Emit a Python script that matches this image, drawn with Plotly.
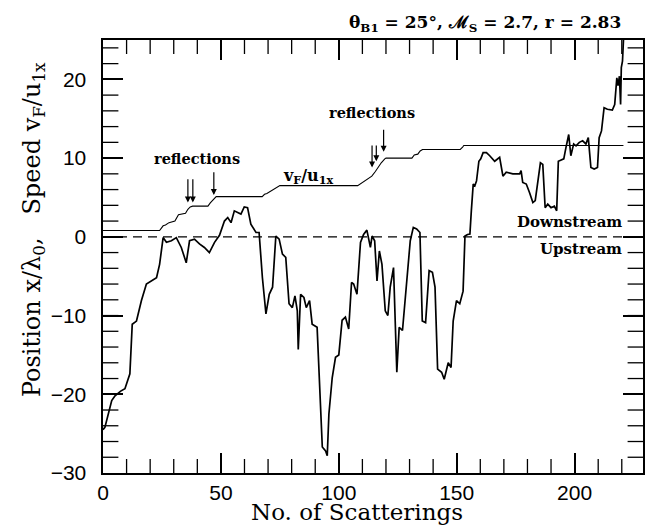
import plotly.graph_objects as go

# Position x/lambda0 vs number of scatterings
pos_n = [0, 0.8, 3.7, 5.1, 7.5, 9.3, 11.4, 12.4, 14.2, 16.3, 18.4, 20.5, 22.7, 24, 25.5, 26.9, 29, 31.1,
         33.2, 35.3, 36.7, 38.8, 40.9, 43, 45.1, 47.3, 49.4, 51.5, 52.9, 54.3, 55.7, 57.1, 58.5, 59.9,
         61.3, 62.7, 64.9, 66.2, 67.6, 69.1, 70.5, 71.9, 73.3, 74.7, 76.1, 77.5, 78.9, 80.3, 81.4, 82.4,
         82.8, 83.8, 85.2, 86.2, 87.6, 88.7, 90.8, 93, 94.4, 95.1, 95.8, 97.2, 98.6, 100, 101.4, 102.8,
         104.2, 105.4, 106.3, 107.7, 109.2, 110.5, 111.9, 113.4, 114.1, 115.2, 116.2, 117.2, 118.3,
         119.7, 120.8, 121.8, 123.2, 124.6, 125.6, 127, 128.8, 130.3, 131.6, 133, 134.4, 135.4, 136.8,
         138.3, 139.7, 140.8, 141.9, 143.6, 144.7, 146.4, 147.6, 148.5, 149.9, 151.3, 152.7, 153.5,
         154.6, 155.6, 156.2, 157, 157.7, 158.4, 159.4, 160.2, 161.2, 162.6, 164, 166.1, 168.2, 169.6,
         171, 173.8, 176.7, 177.3, 178, 179.5, 180.9, 182.3, 183.3, 184.4, 185.5, 186.5, 187.5, 188.6,
         190, 191.4, 192.4, 193.1, 195.4, 196.3, 197.5, 198.4, 199.6, 200.6, 202, 203.4, 204.8, 205.8,
         206.9, 208.3, 209.7, 210.4, 211.4, 212.5, 213.9, 216, 217, 217.9, 218.4, 219, 219.5, 219.8,
         220.3, 220.8]
pos_x = [-24.5, -24.2, -20.8, -20.2, -19.6, -19.3, -17.4, -11.1, -10.7, -8.1, -6.0, -5.6, -5.2, -3.5,
         -0.1, -0.7, -0.5, -0.1, -1.35, -3.3, -0.5, -0.3, -0.9, -1.35, -2.0, -0.7, 0.2, 2.0, 2.45, 1.8,
         3.3, 3.1, 2.9, 3.8, 3.7, 1.6, 0.55, 0.55, -5.2, -9.8, -7.3, -6.4, 0.1, -0.3, -2.2, -2.6, -8.5,
         -9.0, -7.5, -9.4, -14.3, -7.3, -7.7, -9.0, -8.1, -11.1, -11.5, -26.7, -27.2, -27.8, -22.5,
         -17.9, -15.3, -15.0, -10.6, -10.2, -11.7, -5.8, -6.0, -7.3, -0.7, 0.3, 0.85, -1.35, 0.1, -0.5,
         -5.6, -1.8, -3.5, -9.4, -10.0, -6.4, -3.9, -17.2, -11.5, -11.9, -5.6, -0.5, 1.2, 1.0, 0.55,
         -10.7, -10.9, -4.3, -4.5, -6.4, -16.8, -17.2, -18.1, -16.0, -16.6, -10.7, -8.1, -8.5, -6.9,
         0.1, 0.3, 0.35, 3.3, 6.7, 6.5, 7.1, 9.6, 9.9, 10.7, 10.7, 10.3, 9.6, 10.1, 7.7, 8.2, 8.0, 8.0,
         8.4, 6.9, 6.7, 5.6, 4.35, 4.6, 7.1, 9.4, 9.2, 3.7, 4.15, 3.7, 3.9, 3.3, 9.6, 9.9, 11.3, 13.0,
         10.3, 11.8, 11.55, 12.0, 12.2, 11.8, 12.6, 8.8, 8.6, 8.8, 12.6, 13.45, 16.4, 16.2, 16.1, 16.8,
         20.2, 19.2, 20.4, 16.8, 21.5, 22.3, 25.5]

# Speed v_F/u_1x vs number of scatterings
spd_n = [0, 24, 25.5, 26.5, 28, 29.5, 30.5, 32, 33.5, 35, 36, 37, 38, 44.5, 45.5, 47, 48, 67.5, 68.5,
         69.5, 71, 72, 74, 75, 108, 109.5, 111, 112.5, 114, 115.5, 116.5, 118, 119.5, 120, 131, 132,
         133.5, 134.5, 135.5, 151.5, 152.5, 153, 220.7]
spd_v = [0.8, 0.8, 1.4, 1.5, 1.8, 1.9, 2.0, 2.8, 2.9, 3.0, 3.5, 3.8, 3.9, 3.9, 4.3, 4.8, 5.1, 5.1, 5.4,
         5.5, 5.8, 6.0, 6.4, 6.5, 6.5, 6.8, 7.0, 7.4, 7.7, 8.3, 8.8, 9.4, 9.9, 10.0, 10.0, 10.4, 10.5,
         10.9, 11.1, 11.1, 11.4, 11.6, 11.6]

shock_n = [0, 221.5]
shock_x = [0, 0]

# reflection arrows: (n, head, tail)
refl_n = [36, 38.1, 47, 114.1, 115.9, 119]
refl_head = [4.35, 4.35, 5.3, 8.8, 9.6, 10.8]
refl_tail = [7.5, 7.5, 8.4, 11.8, 11.8, 13.8]

X_RANGE = [0, 229]
Y_RANGE = [-30, 25]
X_MINOR = 10
Y_MINOR = 2

SERIF = "DejaVu Serif"
SANS = "Liberation Sans"

fig = go.Figure()
fig.add_trace(go.Scatter(x=shock_n, y=shock_x, mode="lines",
                         line=dict(color="black", width=1.3, dash="9px,6px"), hoverinfo="skip"))
fig.add_trace(go.Scatter(x=spd_n, y=spd_v, mode="lines",
                         line=dict(color="black", width=1.1), hoverinfo="skip"))
fig.add_trace(go.Scatter(x=pos_n, y=pos_x, mode="lines",
                         line=dict(color="black", width=1.7), hoverinfo="skip"))

# minor tick marks along the frame (markers centred on the frame, clipped to the plot area)
xm = [v for v in range(X_RANGE[0] + X_MINOR, int(X_RANGE[1]) + 1, X_MINOR)]
ym = [v for v in range(Y_RANGE[0] + Y_MINOR, Y_RANGE[1] + 1, Y_MINOR)]
for yy in Y_RANGE:
    fig.add_trace(go.Scatter(x=xm, y=[yy] * len(xm), mode="markers", cliponaxis=True,
                             marker=dict(symbol="line-ns", size=20, color="black",
                                         line=dict(color="black", width=1.3)),
                             hoverinfo="skip"))
for xx in X_RANGE:
    fig.add_trace(go.Scatter(x=[xx] * len(ym), y=ym, mode="markers", cliponaxis=True,
                             marker=dict(symbol="line-ew", size=22, color="black",
                                         line=dict(color="black", width=1.3)),
                             hoverinfo="skip"))

ann = []
for n, h, t in zip(refl_n, refl_head, refl_tail):
    ann.append(dict(x=n, y=h, ax=n, ay=t, axref="x", ayref="y", xref="x", yref="y",
                    text="", showarrow=True, arrowhead=2, arrowsize=1, arrowwidth=1.2,
                    arrowcolor="black"))
ann += [
    dict(x=40, y=10.0, xref="x", yref="y", text="<b>reflections</b>", showarrow=False,
         font=dict(family=SERIF, size=14.5, color="black")),
    dict(x=114, y=15.8, xref="x", yref="y", text="<b>reflections</b>", showarrow=False,
         font=dict(family=SERIF, size=14.5, color="black")),
    dict(x=87.3, y=7.6, xref="x", yref="y", text="<b>v<sub>F</sub>/u<sub>1x</sub></b>", showarrow=False,
         font=dict(family=SERIF, size=16, color="black")),
    dict(x=220.8, y=1.9, xref="x", yref="y", xanchor="right", text="<b>Downstream</b>", showarrow=False,
         font=dict(family=SERIF, size=15, color="black")),
    dict(x=220.8, y=-1.6, xref="x", yref="y", xanchor="right", text="<b>Upstream</b>", showarrow=False,
         font=dict(family=SERIF, size=15, color="black")),
    dict(x=1.0, y=1.0, xref="paper", yref="paper", xanchor="right", yanchor="bottom", yshift=3,
         xshift=-20,
         text="<b>θ<sub>B1</sub> = 25°, ℳ<sub>S</sub> = 2.7, r = 2.83</b>",
         showarrow=False, font=dict(family=SERIF, size=17, color="black")),
    # axis titles
    dict(x=0.47, y=0, xref="paper", yref="paper", xanchor="center", yanchor="middle", yshift=-39,
         text="No. of Scatterings", showarrow=False, font=dict(family=SERIF, size=23, color="black")),
    dict(x=0, y=0.561, xref="paper", yref="paper", xanchor="center", yanchor="middle", xshift=-70,
         textangle=-90,
         text="Position x/λ<sub>0</sub>,\u00a0\u00a0 Speed v<sub>F</sub>/u<sub>1x</sub>",
         showarrow=False, font=dict(family=SERIF, size=24, color="black")),
]

fig.update_layout(
    width=657, height=526,
    margin=dict(l=103, r=12, t=40, b=53),
    paper_bgcolor="white", plot_bgcolor="white",
    showlegend=False,
    annotations=ann,
    xaxis=dict(range=X_RANGE, tickmode="linear", tick0=0, dtick=50, ticks="inside", ticklen=20,
               tickwidth=1.5, tickcolor="black", showline=True, linecolor="black", linewidth=2,
               mirror="ticks", showgrid=False, zeroline=False,
               tickfont=dict(family=SANS, size=21, color="black")),
    yaxis=dict(range=Y_RANGE, tickmode="linear", tick0=0, dtick=10, ticks="inside", ticklen=20,
               tickwidth=1.5, tickcolor="black", showline=True, linecolor="black", linewidth=2,
               mirror="ticks", showgrid=False, zeroline=False, ticksuffix="\u2002",
               tickfont=dict(family=SANS, size=21, color="black")),
)

fig.write_html("out.html")
